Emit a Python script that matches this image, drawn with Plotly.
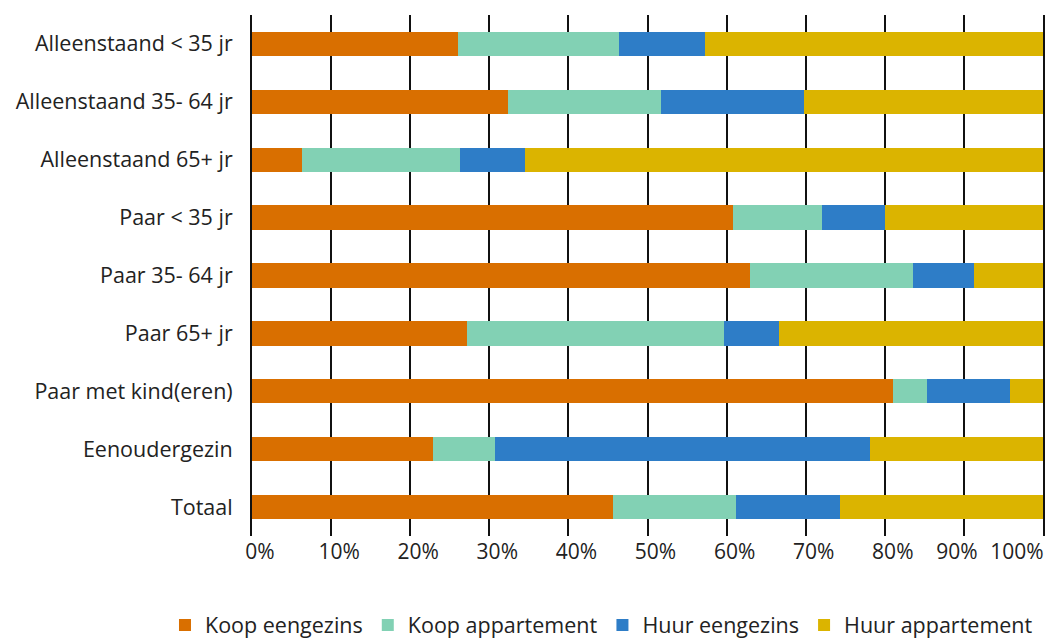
import plotly.graph_objects as go

categories = ["Alleenstaand < 35 jr", "Alleenstaand 35- 64 jr", "Alleenstaand 65+ jr",
              "Paar < 35 jr", "Paar 35- 64 jr", "Paar 65+ jr", "Paar met kind(eren)",
              "Eenoudergezin", "Totaal"]
koop_eengezins = [26.0, 32.4, 6.3, 60.8, 63.0, 27.2, 81.0, 22.9, 45.6]
koop_appartement = [20.4, 19.3, 20.0, 11.3, 20.6, 32.5, 4.3, 7.8, 15.6]
huur_eengezins = [10.9, 18.1, 8.2, 7.9, 7.7, 6.9, 10.5, 47.4, 13.1]
huur_appartement = [42.7, 30.2, 65.5, 20.0, 8.7, 33.4, 4.2, 21.9, 25.7]
tick_vals = [0, 10, 20, 30, 40, 50, 60, 70, 80, 90, 100]
tick_text = ["0%", "10%", "20%", "30%", "40%", "50%", "60%", "70%", "80%", "90%", "100%"]

series = [
    ("Koop eengezins", koop_eengezins, "#D96F00"),
    ("Koop appartement", koop_appartement, "#82D1B4"),
    ("Huur eengezins", huur_eengezins, "#2E7DC7"),
    ("Huur appartement", huur_appartement, "#DBB400"),
]

fig = go.Figure()
for name, vals, col in series:
    fig.add_trace(go.Bar(y=categories, x=vals, name=name, orientation="h",
                         marker=dict(color=col, line=dict(width=0))))

# empty helper traces so the two extra tick-label axes get drawn (no marks)
for ax in ("x2", "x3"):
    fig.add_trace(go.Scatter(x=[], y=[], xaxis=ax, yaxis="y", showlegend=False,
                             hoverinfo="skip", mode="markers"))

tickfont = dict(size=21, family="Open Sans", color="#222222")
common = dict(range=[0, 100], showline=False, zeroline=False, ticks="",
              tickangle=0, ticklabelstandoff=1, ticklabeloverflow="allow",
              tickfont=tickfont)

fig.update_layout(
    barmode="stack",
    bargap=0.58,
    width=1050, height=641,
    margin=dict(l=252, r=7, t=15, b=105, autoexpand=False),
    paper_bgcolor="white", plot_bgcolor="white",
    font=dict(family="Open Sans", size=21, color="#222222"),
    legend=dict(orientation="h", x=-0.11, xanchor="left",
                y=-0.171, yanchor="middle",
                font=dict(size=21.5), traceorder="normal", itemwidth=30),
    # main axis: 0% .. 80%
    xaxis=dict(tickvals=tick_vals[:-2], ticktext=tick_text[:-2],
               showgrid=True, gridcolor="#111111", gridwidth=2,
               ticklabelshift=8, **common),
    # 90% label (gridline too), nudged left as in the original
    xaxis2=dict(overlaying="x", anchor="y", side="bottom",
                tickvals=tick_vals[-2:-1], ticktext=tick_text[-2:-1],
                showgrid=True, gridcolor="#111111", gridwidth=2,
                ticklabelshift=-7, **common),
    # 100% label, kept inside the page
    xaxis3=dict(overlaying="x", anchor="y", side="bottom",
                tickvals=tick_vals[-1:], ticktext=tick_text[-1:],
                showgrid=False, ticklabelshift=-26, **common),
    yaxis=dict(autorange="reversed", showgrid=False, ticks="",
               ticklabelstandoff=13, tickfont=dict(size=21.5),
               showline=True, mirror=True, linecolor="#111111", linewidth=2),
)
fig.write_html("out.html")
